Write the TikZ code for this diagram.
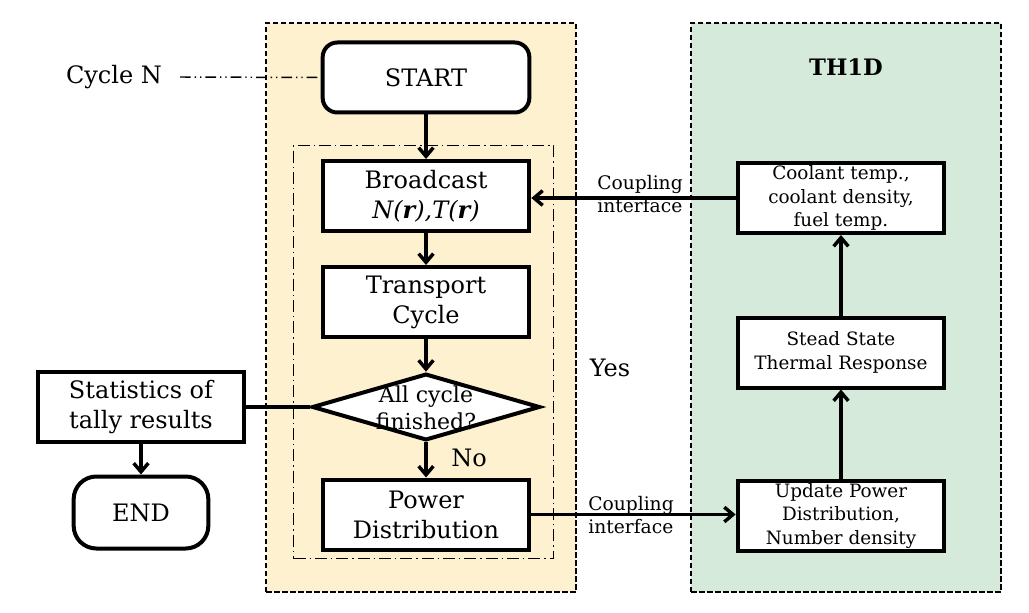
\documentclass[tikz,border=0pt]{standalone}
\usepackage{fontspec}
\setmainfont{DejaVu Serif}
\usetikzlibrary{arrows.meta,shapes.geometric}
\definecolor{panelY}{HTML}{FDF1D0}
\definecolor{panelG}{HTML}{D5EADA}
\newcommand\fBig{\fontsize{18pt}{22.5pt}\selectfont}
\newcommand\fDia{\fontsize{16.5pt}{20pt}\selectfont}
\newcommand\fGrn{\fontsize{13.8pt}{17.6pt}\selectfont}
\newcommand\fCpl{\fontsize{14pt}{17.2pt}\selectfont}
\newcommand\fTitle{\fontsize{17pt}{20pt}\selectfont\bfseries}
\begin{document}
\begin{tikzpicture}[x=0.75pt,y=-0.75pt,
  panel/.style={draw,line width=1.4pt,dash pattern=on 4pt off 2pt,minimum width=232pt,minimum height=427pt,inner sep=0pt},
  inner/.style={draw,line width=0.9pt,dash pattern=on 9pt off 3pt on 1pt off 3pt,minimum width=195pt,minimum height=310pt,inner sep=0pt},
  procbox/.style={draw,line width=3pt,fill=white,minimum width=155pt,minimum height=52.5pt,align=center,inner sep=0pt,font=\fBig},
  grnbox/.style={draw,line width=3pt,fill=white,minimum width=155pt,minimum height=52.5pt,align=center,inner sep=0pt,font=\fGrn},
  txt/.style={inner sep=0pt,font=\fBig,align=center},
  cpl/.style={inner sep=0pt,font=\fCpl,align=left},
  arr/.style={-{Straight Barb[length=6.5pt,width=11pt]},line width=2.6pt},
  plain/.style={line width=2.6pt}
]
\useasboundingbox[fill=white] (0,0) rectangle (1029,613);
% panels
\node[panel,fill=panelY] (ypanel) at (421,307.5) {};
\node[panel,fill=panelG] (gpanel) at (846,307.5) {};
\node[inner] (loop) at (423.5,352) {};
\node[inner sep=0pt,font=\fTitle] (th) at (846,67) {TH1D};
% left column
\node[procbox,rounded corners=11pt] (start) at (426,77.5) {START};
\node[procbox] (bc) at (426,196) {Broadcast\\\textit{N(\textbf{r}),T(\textbf{r})}};
\node[procbox] (tr) at (426,302) {Transport\\Cycle};
\node[diamond,draw,line width=3pt,fill=white,minimum width=171pt,minimum height=50pt,inner sep=0pt] (dia) at (426,407) {};
\node[inner sep=0pt,font=\fDia,align=center] (diat) at (426,407.5) {All cycle\\finished?};
\node[procbox] (pw) at (426,514.5) {Power\\Distribution};
% far left
\node[txt] (cyc) at (114,77) {Cycle N};
\coordinate (cycend) at (180,77);
\node[procbox] (stat) at (141,407) {Statistics of\\tally results};
\node[procbox,minimum width=101pt,minimum height=54pt,rounded corners=17pt] (endn) at (141,512.5) {END};
\node[txt] (yes) at (610,368) {Yes};
\node[txt] (no) at (469,458) {No};
% right column
\node[grnbox] (cool) at (841,198) {Coolant temp.,\\coolant density,\\fuel temp.};
\node[grnbox] (stead) at (841,352.5) {Stead State\\Thermal Response};
\node[grnbox] (upd) at (841,516) {Update Power\\Distribution,\\Number density};
\node[cpl] (cpl1) at (640,194) {Coupling\\interface};
\node[cpl] (cpl2) at (631,515) {Coupling\\interface};
% connectors
\draw[line width=1.1pt,dash pattern=on 8pt off 3pt on 1pt off 3pt on 1pt off 3pt] (cycend) -- (start.west);
\draw[arr] (start.south) -- (bc.north);
\draw[arr] (bc.south) -- (tr.north);
\draw[arr] (tr.south) -- (dia.north);
\draw[arr] (dia.south) -- (pw.north);
\draw[plain] (stat.east) -- (dia.west);
\draw[arr] (stat.south) -- (endn.north);
\draw[arr] (cool.west) -- (cool.west -| bc.east);
\draw[arr] (pw.east) -- (pw.east -| upd.west);
\draw[arr] (upd.north) -- (stead.south);
\draw[arr] (stead.north) -- (cool.south);
\end{tikzpicture}
\end{document}
